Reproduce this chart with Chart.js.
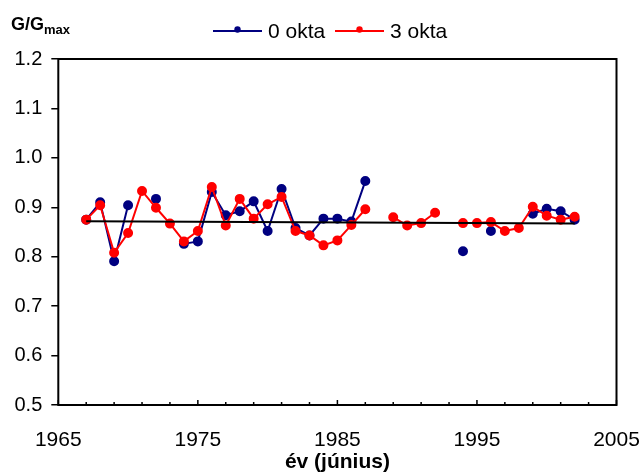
<!DOCTYPE html>
<html><head><meta charset="utf-8">
<script src="https://cdn.jsdelivr.net/npm/chart.js@4/dist/chart.umd.min.js"></script>
<style>html,body{margin:0;padding:0;background:#fff}#wrap{width:643px;height:475px}</style>
</head><body><div id="wrap"><canvas id="c" width="643" height="475"></canvas></div>
<script>
const years = [1967,1968,1969,1970,1971,1972,1973,1974,1975,1976,1977,1978,1979,1980,1981,1982,1983,1984,1985,1986,1987,1988,1989,1990,1991,1992,1993,1994,1995,1996,1997,1998,1999,2000,2001,2002];
const okta0 = [0.875,0.910,0.791,0.904,null,0.917,null,0.826,0.831,0.931,0.884,0.892,0.912,0.852,0.937,0.858,0.843,0.877,0.877,0.871,0.953,null,null,null,null,null,null,0.811,null,0.852,null,null,0.887,0.897,0.892,0.875];
const okta3 = [0.875,0.904,0.808,0.848,0.933,0.899,0.867,0.831,0.852,0.941,0.863,0.917,0.877,0.906,0.921,0.852,0.843,0.823,0.833,0.864,0.896,null,0.880,0.863,0.868,0.889,null,0.868,0.868,0.870,0.852,0.858,0.901,0.883,0.875,0.881];
const trendYears = [1967,2002];
const trendValues = [0.872,0.867];
const xTicks = [1965,1975,1985,1995,2005];
const yTicks = [0.5,0.6,0.7,0.8,0.9,1.0,1.1,1.2];
const seriesNames = ['0 okta','3 okta'];
const colors = ['#000080','#FF0000'];

const pts = (xs, ys) => xs.map((x,i)=>({x:x, y:ys[i]}));
const FONT = "'Liberation Sans', Arial, sans-serif";

const boxPlugin = {
  id:'box',
  beforeDatasetsDraw(chart){
    const {ctx, chartArea:a, scales} = chart;
    ctx.save();
    ctx.strokeStyle='#000'; ctx.lineWidth=2;
    ctx.strokeRect(a.left, a.top, a.right-a.left, a.bottom-a.top);
    ctx.lineWidth=1.5;
    for(let v=1965; v<=2005; v+=2){
      const px = scales.x.getPixelForValue(v);
      const major = xTicks.includes(v);
      ctx.beginPath(); ctx.moveTo(px, a.bottom); ctx.lineTo(px, a.bottom-(major?5:3)); ctx.stroke();
    }
    ctx.restore();
  },
  afterDraw(chart){
    const {ctx} = chart;
    ctx.save();
    ctx.fillStyle='#000';
    ctx.textBaseline='alphabetic';
    ctx.font = "bold 18px "+FONT;
    ctx.fillText('G/G', 11, 30);
    const w = ctx.measureText('G/G').width;
    ctx.font = "bold 13px "+FONT;
    ctx.fillText('max', 11+w, 34);
    const items = [{x:213, c:colors[0], t:seriesNames[0]},{x:335, c:colors[1], t:seriesNames[1]}];
    const ly = 31;
    items.forEach(it=>{
      ctx.strokeStyle=it.c; ctx.lineWidth=2;
      ctx.beginPath(); ctx.moveTo(it.x, ly); ctx.lineTo(it.x+49, ly); ctx.stroke();
      ctx.fillStyle=it.c; ctx.beginPath(); ctx.arc(it.x+24.5, ly-1.5, 3.2, 0, Math.PI*2); ctx.fill();
      ctx.fillStyle='#000'; ctx.font="21px "+FONT; ctx.textBaseline='middle';
      ctx.fillText(it.t, it.x+55, ly+1);
    });
    ctx.restore();
  }
};

new Chart(document.getElementById('c'), {
  type:'line',
  data:{
    datasets:[
      {label:seriesNames[0], data:pts(years,okta0), borderColor:colors[0], backgroundColor:colors[0], borderWidth:2, pointRadius:4, pointHoverRadius:4, spanGaps:false, tension:0, order:3},
      {label:seriesNames[1], data:pts(years,okta3), borderColor:colors[1], backgroundColor:colors[1], borderWidth:2, pointRadius:4, pointHoverRadius:4, spanGaps:false, tension:0, order:2},
      {label:'trend', data:pts(trendYears,trendValues), borderColor:'#000', borderWidth:2, pointRadius:0, tension:0, order:1}
    ]
  },
  options:{
    responsive:false, animation:false, devicePixelRatio:1,
    layout:{padding:{top:59, right:26.5, left:0, bottom:0}},
    plugins:{legend:{display:false}, tooltip:{enabled:false}},
    scales:{
      x:{type:'linear', min:1965, max:2005,
        afterBuildTicks(s){ s.ticks = xTicks.map(v=>({value:v})); },
        afterFit(s){ s.height = 70; s.paddingLeft = 0; s.paddingRight = 0; },
        grid:{display:false, drawTicks:false}, border:{display:false},
        ticks:{autoSkip:false, maxRotation:0, padding:23, color:'#000', font:{family:FONT, size:21}, callback:v=>String(v)},
        title:{display:true, text:'év (június)', color:'#000', font:{family:FONT, size:21, weight:'bold'}, padding:{top:0,bottom:0}}
      },
      y:{min:0.5, max:1.2,
        afterBuildTicks(s){ s.ticks = yTicks.map(v=>({value:v})); },
        afterFit(s){ s.width = 58.3; s.paddingTop = 0; s.paddingBottom = 0; },
        grid:{display:true, drawOnChartArea:false, drawTicks:true, tickLength:7, color:'#000', lineWidth:1.5}, border:{display:false},
        ticks:{padding:9, color:'#000', font:{family:FONT, size:20}, callback:v=>Number(v).toFixed(1)}
      }
    }
  },
  plugins:[boxPlugin]
});
</script></body></html>
